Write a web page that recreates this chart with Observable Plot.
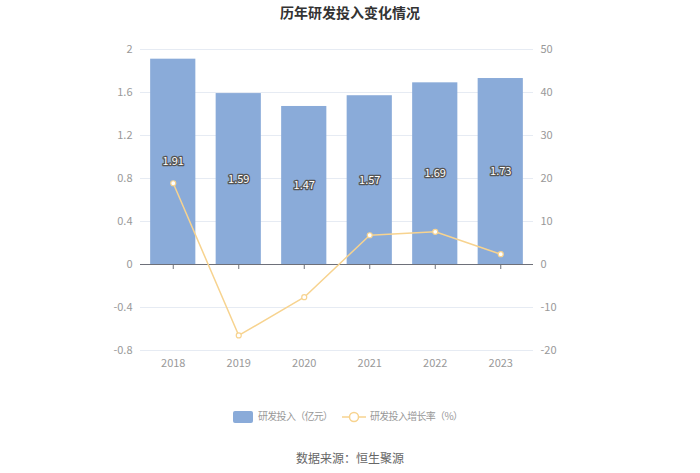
<!DOCTYPE html>
<html>
<head>
<meta charset="utf-8">
<script src="https://cdn.jsdelivr.net/npm/d3@7"></script>
<script src="https://cdn.jsdelivr.net/npm/@observablehq/plot@0.6"></script>
<style>
  body { margin: 0; background: #fff; font-family: "Noto Sans CJK SC", "Noto Sans", sans-serif; }
  #wrap { position: relative; width: 700px; height: 473px; }
  #title { position: absolute; top: 2px; left: 0; width: 700px; text-align: center; font-size: 14px; font-weight: bold; color: #333; }
  #chart { position: absolute; top: 0; left: 0; }
  #legend { position: absolute; top: 407px; left: 0; width: 700px; font-size: 10px; letter-spacing: -0.7px; color: #999; }
  #caption { position: absolute; top: 449px; left: 0; width: 700px; text-align: center; font-size: 12px; color: #666; }
</style>
</head>
<body>
<div id="wrap">
  <div id="chart"></div>
  <div id="title">历年研发投入变化情况</div>
  <div id="legend"></div>
  <div id="caption">数据来源：恒生聚源</div>
</div>
<script>
const years = ["2018", "2019", "2020", "2021", "2022", "2023"];
const rdInvest = [1.91, 1.59, 1.47, 1.57, 1.69, 1.73];
const rdGrowth = [18.9, -16.5, -7.6, 6.8, 7.6, 2.4];
const leftTicks = [-0.8, -0.4, 0, 0.4, 0.8, 1.2, 1.6, 2];
const rightTicks = [-20, -10, 0, 10, 20, 30, 40, 50];
const seriesNames = ["研发投入（亿元）", "研发投入增长率（%）"];

const barColor = "#8aabd9";
const lineColor = "#f7d38f";
const ratio = 25; // right axis value per left axis unit

const data = years.map((y, i) => ({year: y, value: rdInvest[i], growth: rdGrowth[i] / ratio}));

const chart = Plot.plot({
  width: 700,
  height: 380,
  marginTop: 49,
  marginBottom: 30,
  marginLeft: 140,
  marginRight: 167,
  style: {fontFamily: "'Noto Sans CJK SC', 'Noto Sans', sans-serif", fontSize: "11px", color: "#999", background: "transparent"},
  x: {domain: years, paddingInner: 0.31, paddingOuter: 0.155, align: 0.5, round: false},
  y: {domain: [-0.8, 2]},
  marks: [
    Plot.ruleY(leftTicks.filter(d => d !== 0), {stroke: "#e6ebf3", strokeWidth: 1}),
    Plot.barY(data, {x: "year", y: "value", fill: barColor}),
    Plot.ruleY([0], {stroke: "#6e7079", strokeWidth: 1}),
    Plot.ruleX(data, {x: "year", y1: 0, y2: 0, insetTop: 5, stroke: "#6e7079"}),
    Plot.axisY(leftTicks, {anchor: "left", tickSize: 0, tickPadding: 8, tickFormat: d => String(d), fill: "#999", label: null}),
    Plot.axisY(rightTicks.map(d => d / ratio), {anchor: "right", tickSize: 0, tickPadding: 7, tickFormat: d => String(Math.round(d * ratio)), fill: "#999", label: null}),
    Plot.axisX({anchor: "bottom", tickSize: 0, tickPadding: 9, fill: "#999", label: null}),
    Plot.line(data, {x: "year", y: "growth", stroke: lineColor, strokeWidth: 1.5}),
    Plot.dot(data, {x: "year", y: "growth", r: 2.5, fill: "#fff", stroke: lineColor, strokeWidth: 1.2}),
    Plot.text(data, {x: "year", y: d => d.value / 2, text: d => d.value.toFixed(2), fill: "#fff", stroke: "#555", strokeWidth: 2.5, paintOrder: "stroke", fontSize: 11, letterSpacing: "-0.5px"})
  ]
});
document.getElementById("chart").appendChild(chart);

document.getElementById("legend").innerHTML = `
  <div style="position:absolute;left:233px;top:4px;width:20px;height:12px;background:${barColor};border-radius:2px"></div>
  <div style="position:absolute;left:258px;top:1px">${seriesNames[0]}</div>
  <svg style="position:absolute;left:342px;top:3px" width="24" height="14">
    <line x1="0" y1="7" x2="24" y2="7" stroke="${lineColor}" stroke-width="1.5"/>
    <circle cx="12" cy="7" r="4.5" fill="#fff" stroke="${lineColor}" stroke-width="1.5"/>
  </svg>
  <div style="position:absolute;left:370px;top:1px">${seriesNames[1]}</div>
`;
</script>
</body>
</html>
